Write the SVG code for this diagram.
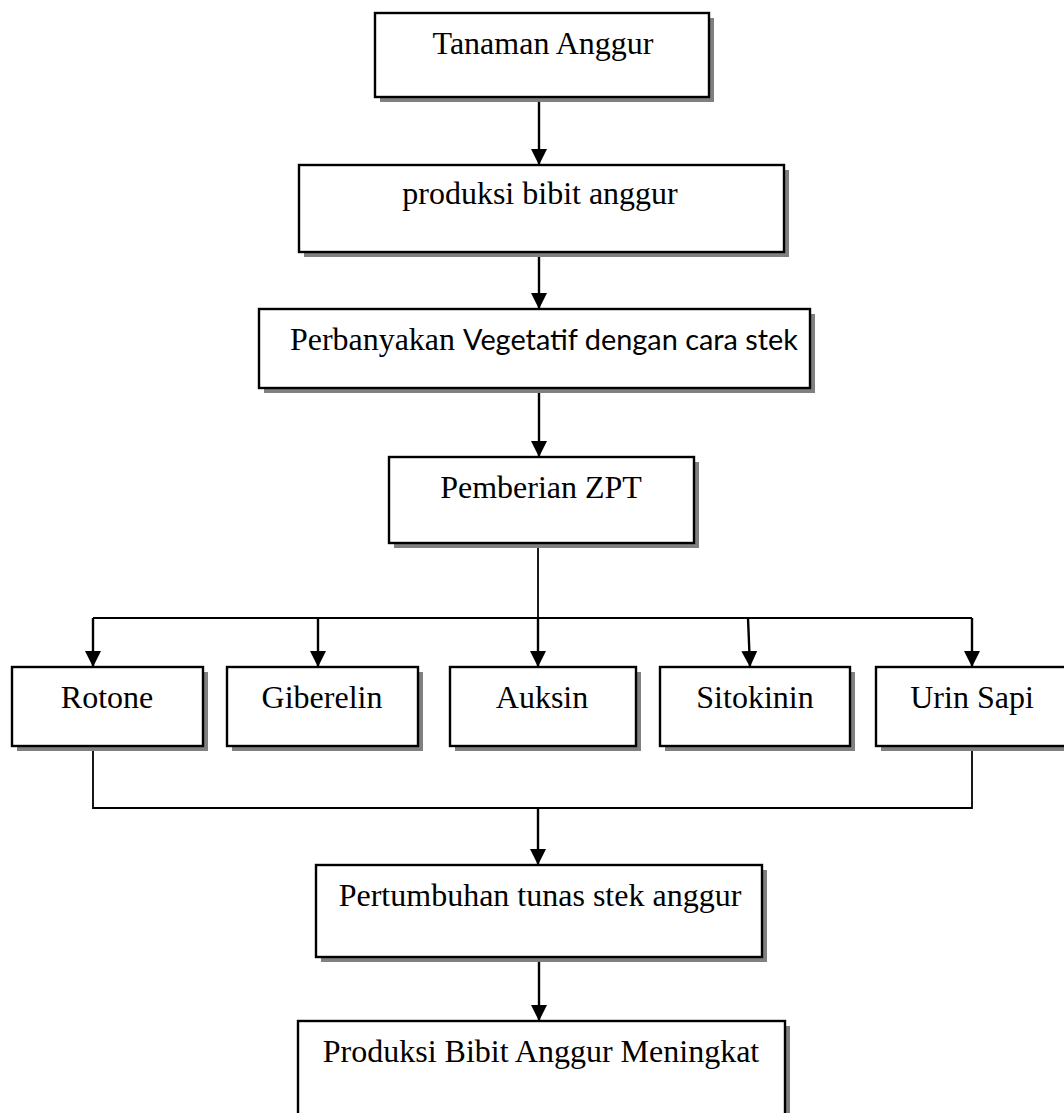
<svg xmlns="http://www.w3.org/2000/svg" width="1064" height="1113" viewBox="0 0 1064 1113">
<defs>
<marker id="arr" viewBox="0 0 10 10" refX="10" refY="5" markerUnits="userSpaceOnUse" markerWidth="16" markerHeight="16" orient="auto">
<path d="M0,0 L10,5 L0,10 z" fill="#000"/>
</marker>
</defs>
<style>
.bg{fill:#fff}
.sh{fill:#808080}
.bx{fill:#fff;stroke:#000;stroke-width:2.4}
.t{font-family:"Liberation Serif","Times New Roman",serif;font-size:32px;fill:#000;text-anchor:middle}
.c{fill:none;stroke:#000;stroke-width:2.4}
.thin{fill:none;stroke:#000;stroke-width:1.8}
</style>
<rect class="bg" x="0" y="0" width="1064" height="1113"/>

<g id="connectors">
<line class="c" x1="539" y1="97" x2="539" y2="165" marker-end="url(#arr)"/>
<line class="c" x1="539" y1="252" x2="539" y2="309" marker-end="url(#arr)"/>
<line class="c" x1="539" y1="388" x2="539" y2="457" marker-end="url(#arr)"/>
<line class="thin" x1="538" y1="543" x2="538" y2="618"/>
<line class="thin" x1="93" y1="618" x2="972" y2="618"/>
<line class="c" x1="538" y1="618" x2="538" y2="667" marker-end="url(#arr)"/>
<line class="c" x1="93" y1="618" x2="93" y2="667" marker-end="url(#arr)"/>
<line class="c" x1="318" y1="618" x2="318" y2="667" marker-end="url(#arr)"/>
<line class="c" x1="748" y1="618" x2="750" y2="667" marker-end="url(#arr)"/>
<line class="c" x1="972" y1="618" x2="972" y2="667" marker-end="url(#arr)"/>
<polyline class="thin" points="93,746 93,808 972,808 972,746"/>
<line class="c" x1="538" y1="808" x2="538" y2="865" marker-end="url(#arr)"/>
<line class="c" x1="539" y1="957" x2="539" y2="1021" marker-end="url(#arr)"/>
</g>

<g id="n1">
<rect class="sh" x="380" y="18" width="334" height="84"/>
<rect class="bx" x="375" y="13" width="334" height="84"/>
<text class="t" x="543" y="54">Tanaman Anggur</text>
</g>
<g id="n2">
<rect class="sh" x="304" y="170" width="485" height="87"/>
<rect class="bx" x="299" y="165" width="485" height="87"/>
<text class="t" x="540" y="204">produksi bibit anggur</text>
</g>
<g id="n3">
<rect class="sh" x="264" y="314" width="551" height="79"/>
<rect class="bx" x="259" y="309" width="551" height="79"/>
<text class="t" x="290" y="350" style="text-anchor:start" textLength="165" lengthAdjust="spacingAndGlyphs">Perbanyakan</text>
<text x="463" y="350" style="font-family:Lato,'Open Sans',sans-serif;font-size:29px;fill:#000" textLength="335" lengthAdjust="spacingAndGlyphs">Vegetatif dengan cara stek</text>
</g>
<g id="n4">
<rect class="sh" x="394" y="462" width="305" height="86"/>
<rect class="bx" x="389" y="457" width="305" height="86"/>
<text class="t" x="541" y="498">Pemberian ZPT</text>
</g>
<g id="n5">
<rect class="sh" x="17" y="672" width="191" height="79"/>
<rect class="bx" x="12" y="667" width="191" height="79"/>
<text class="t" x="107" y="708">Rotone</text>
</g>
<g id="n6">
<rect class="sh" x="232" y="672" width="191" height="79"/>
<rect class="bx" x="227" y="667" width="191" height="79"/>
<text class="t" x="322" y="708">Giberelin</text>
</g>
<g id="n7">
<rect class="sh" x="455" y="672" width="186" height="79"/>
<rect class="bx" x="450" y="667" width="186" height="79"/>
<text class="t" x="542" y="708">Auksin</text>
</g>
<g id="n8">
<rect class="sh" x="665" y="672" width="190" height="79"/>
<rect class="bx" x="660" y="667" width="190" height="79"/>
<text class="t" x="755" y="708">Sitokinin</text>
</g>
<g id="n9">
<rect class="sh" x="881" y="672" width="190" height="79"/>
<rect class="bx" x="876" y="667" width="190" height="79"/>
<text class="t" x="972" y="708">Urin Sapi</text>
</g>
<g id="n10">
<rect class="sh" x="321" y="870" width="446" height="92"/>
<rect class="bx" x="316" y="865" width="446" height="92"/>
<text class="t" x="540" y="906">Pertumbuhan tunas stek anggur</text>
</g>
<g id="n11">
<rect class="sh" x="303" y="1026" width="487" height="110"/>
<rect class="bx" x="298" y="1021" width="487" height="110"/>
<text class="t" x="541" y="1062">Produksi Bibit Anggur Meningkat</text>
</g>
</svg>
